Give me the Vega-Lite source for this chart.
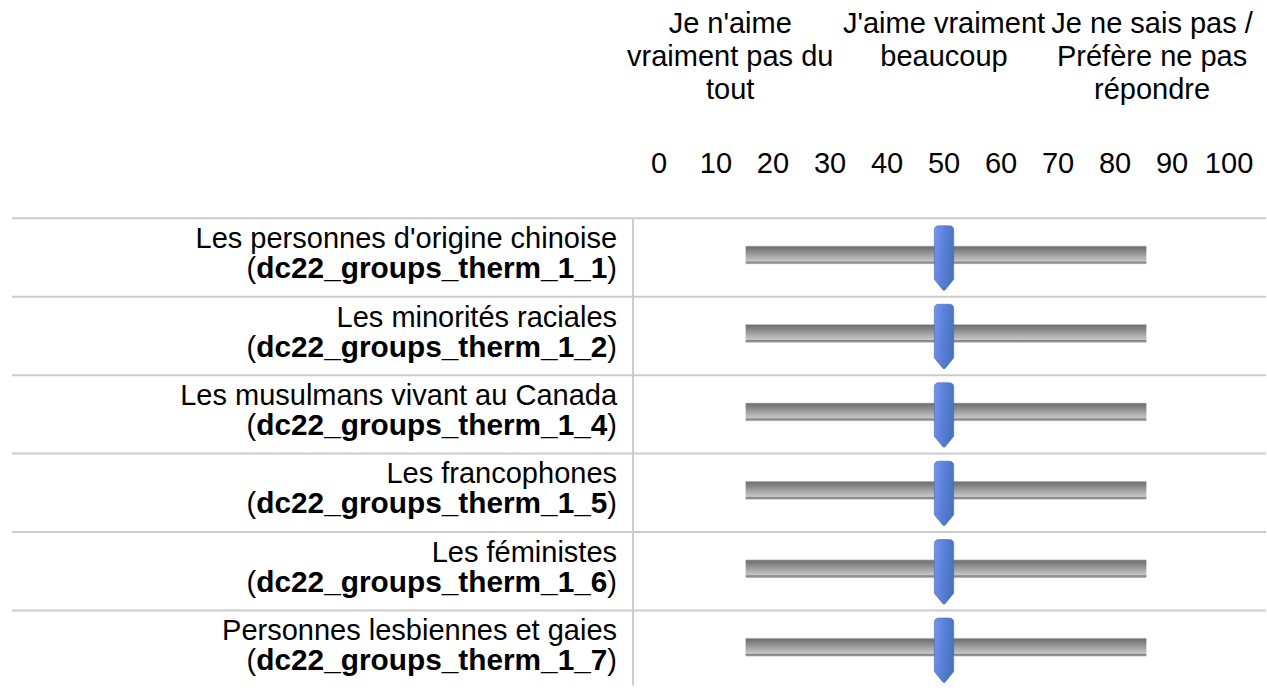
{
  "$schema": "https://vega.github.io/schema/vega-lite/v6.json",
  "width": 1267,
  "height": 690,
  "autosize": {"type": "fit", "contains": "padding"},
  "padding": {"left": 11, "top": 0, "right": 0, "bottom": 0},
  "background": "white",
  "config": {
    "view": {"stroke": null},
    "text": {"font": "Liberation Sans", "fontSize": 29, "color": "#000000"}
  },
  "datasets": {
    "items": [
      {"row": 1, "label": "Les personnes d'origine chinoise", "var": "dc22_groups_therm_1_1", "value": 50},
      {"row": 2, "label": "Les minorités raciales", "var": "dc22_groups_therm_1_2", "value": 50},
      {"row": 3, "label": "Les musulmans vivant au Canada", "var": "dc22_groups_therm_1_4", "value": 50},
      {"row": 4, "label": "Les francophones", "var": "dc22_groups_therm_1_5", "value": 50},
      {"row": 5, "label": "Les féministes", "var": "dc22_groups_therm_1_6", "value": 50},
      {"row": 6, "label": "Personnes lesbiennes et gaies", "var": "dc22_groups_therm_1_7", "value": 50}
    ],
    "ticks": [
      {"tick": 0}, {"tick": 10}, {"tick": 20}, {"tick": 30}, {"tick": 40}, {"tick": 50},
      {"tick": 60}, {"tick": 70}, {"tick": 80}, {"tick": 90}, {"tick": 100}
    ],
    "headers": [
      {"at": 12.5, "text": "Je n'aime\nvraiment pas du\ntout"},
      {"at": 50, "text": "J'aime vraiment\nbeaucoup"},
      {"at": 86.5, "text": "Je ne sais pas /\nPréfère ne pas\nrépondre"}
    ],
    "divider": [{"kind": "divider"}]
  },
  "layer": [
    {
      "data": {"name": "items"},
      "mark": {"type": "rule", "color": "#cccccc", "strokeWidth": 2, "yOffset": -39.8},
      "encoding": {
        "y": {"field": "row", "type": "quantitative", "axis": null, "scale": {"domain": [-2.2261, 6.4422], "reverse": true, "nice": false, "zero": false}}
      }
    },
    {
      "data": {"name": "divider"},
      "mark": {"type": "rule", "color": "#cccccc", "strokeWidth": 2},
      "encoding": {
        "x": {"datum": -4.55, "type": "quantitative", "axis": null, "scale": {"domain": [-113.49, 106.48], "nice": false, "zero": false}},
        "y": {"datum": 0.5, "type": "quantitative", "axis": null, "scale": {"domain": [-2.2261, 6.4422], "reverse": true, "nice": false, "zero": false}},
        "y2": {"datum": 6.45}
      }
    },
    {
      "data": {"name": "items"},
      "mark": {
        "type": "bar",
        "orient": "horizontal",
        "size": 19,
        "yOffset": -3,
        "fill": {
          "gradient": "linear", "x1": 0, "y1": 0, "x2": 0, "y2": 1,
          "stops": [
            {"offset": 0, "color": "#e2e2e2"},
            {"offset": 0.07, "color": "#727272"},
            {"offset": 0.25, "color": "#838383"},
            {"offset": 0.6, "color": "#adadad"},
            {"offset": 0.82, "color": "#c6c6c6"},
            {"offset": 0.86, "color": "#838383"},
            {"offset": 0.93, "color": "#939393"},
            {"offset": 1, "color": "#f0f0f0"}
          ]
        }
      },
      "encoding": {
        "x": {"datum": 15.2, "type": "quantitative", "axis": null, "scale": {"domain": [-113.49, 106.48], "nice": false, "zero": false}},
        "x2": {"datum": 85.5},
        "y": {"field": "row", "type": "quantitative", "axis": null, "scale": {"domain": [-2.2261, 6.4422], "reverse": true, "nice": false, "zero": false}}
      }
    },
    {
      "data": {"name": "items"},
      "mark": {
        "type": "point",
        "filled": true,
        "opacity": 1,
        "size": 4160,
        "shape": "M-0.3,-0.86 Q-0.3,-1 -0.16,-1 L0.16,-1 Q0.3,-1 0.3,-0.86 L0.3,0.66 L0.04,0.98 Q0,1.02 -0.04,0.98 L-0.3,0.66 Z",
        "stroke": "#4668b3",
        "strokeWidth": 0.6,
        "fill": {
          "gradient": "linear", "x1": 0, "y1": 0, "x2": 1, "y2": 0.3,
          "stops": [
            {"offset": 0, "color": "#7796ee"},
            {"offset": 0.45, "color": "#5e83de"},
            {"offset": 1, "color": "#4774bf"}
          ]
        }
      },
      "encoding": {
        "x": {"field": "value", "type": "quantitative", "axis": null, "scale": {"domain": [-113.49, 106.48], "nice": false, "zero": false}},
        "y": {"field": "row", "type": "quantitative", "axis": null, "scale": {"domain": [-2.2261, 6.4422], "reverse": true, "nice": false, "zero": false}}
      }
    },
    {
      "data": {"name": "items"},
      "mark": {"type": "text", "align": "right", "baseline": "alphabetic", "dy": -10},
      "encoding": {
        "x": {"datum": -7.36, "type": "quantitative", "axis": null, "scale": {"domain": [-113.49, 106.48], "nice": false, "zero": false}},
        "y": {"field": "row", "type": "quantitative", "axis": null, "scale": {"domain": [-2.2261, 6.4422], "reverse": true, "nice": false, "zero": false}},
        "text": {"field": "label"}
      }
    },
    {
      "data": {"name": "items"},
      "mark": {"type": "text", "align": "right", "baseline": "alphabetic", "dy": 20, "text": ")"},
      "encoding": {
        "x": {"datum": -7.36, "type": "quantitative", "axis": null, "scale": {"domain": [-113.49, 106.48], "nice": false, "zero": false}},
        "y": {"field": "row", "type": "quantitative", "axis": null, "scale": {"domain": [-2.2261, 6.4422], "reverse": true, "nice": false, "zero": false}}
      }
    },
    {
      "data": {"name": "items"},
      "mark": {"type": "text", "align": "right", "baseline": "alphabetic", "dy": 20, "dx": -9.66, "fontWeight": "bold", "fontSize": 29.8},
      "encoding": {
        "x": {"datum": -7.36, "type": "quantitative", "axis": null, "scale": {"domain": [-113.49, 106.48], "nice": false, "zero": false}},
        "y": {"field": "row", "type": "quantitative", "axis": null, "scale": {"domain": [-2.2261, 6.4422], "reverse": true, "nice": false, "zero": false}},
        "text": {"field": "var"}
      }
    },
    {
      "data": {"name": "items"},
      "mark": {"type": "text", "align": "right", "baseline": "alphabetic", "dy": 20, "dx": -360.8, "text": "("},
      "encoding": {
        "x": {"datum": -7.36, "type": "quantitative", "axis": null, "scale": {"domain": [-113.49, 106.48], "nice": false, "zero": false}},
        "y": {"field": "row", "type": "quantitative", "axis": null, "scale": {"domain": [-2.2261, 6.4422], "reverse": true, "nice": false, "zero": false}}
      }
    },
    {
      "data": {"name": "ticks"},
      "mark": {"type": "text", "align": "center", "baseline": "alphabetic"},
      "encoding": {
        "x": {"field": "tick", "type": "quantitative", "axis": null, "scale": {"domain": [-113.49, 106.48], "nice": false, "zero": false}},
        "y": {"datum": -0.0842, "type": "quantitative", "axis": null, "scale": {"domain": [-2.2261, 6.4422], "reverse": true, "nice": false, "zero": false}},
        "text": {"field": "tick"}
      }
    },
    {
      "data": {"name": "headers"},
      "mark": {"type": "text", "align": "center", "baseline": "alphabetic", "lineBreak": "\n", "lineHeight": 33},
      "encoding": {
        "x": {"field": "at", "type": "quantitative", "axis": null, "scale": {"domain": [-113.49, 106.48], "nice": false, "zero": false}},
        "y": {"datum": -1.874, "type": "quantitative", "axis": null, "scale": {"domain": [-2.2261, 6.4422], "reverse": true, "nice": false, "zero": false}},
        "text": {"field": "text"}
      }
    }
  ]
}
